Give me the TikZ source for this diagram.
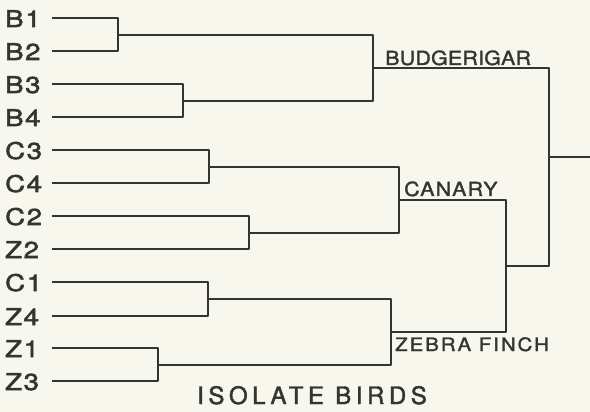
\documentclass[tikz,border=0pt]{standalone}
\usepackage{fontspec}
\setmainfont{TeX Gyre Heros}
\definecolor{paper}{HTML}{F7F7EE}
\definecolor{ink}{HTML}{35352F}
\begin{document}
\begin{tikzpicture}[x=1pt,y=-1pt,
  leaf/.style={anchor=base west,inner sep=0pt,text=ink,font=\fontsize{23}{23}\selectfont\addfontfeature{FakeStretch=1.2,FakeBold=2.2,LetterSpace=7}},
  clus/.style={anchor=base west,inner sep=0pt,text=ink},
  branch/.style={draw=ink,line width=2.3pt,line join=round}]
\fill[paper] (0,0) rectangle (590,412);
\useasboundingbox (0,0) rectangle (590,412);
% leaf labels
\foreach \n/\y in {B1/18,B2/51,B3/84,B4/117,C3/150,C4/183,C2/216,Z2/249,C1/282,Z4/316,Z1/348,Z3/381}{
  \node[leaf] (t\n) at (5,\y+9) {\n};
  \coordinate (l\n) at (52,\y);
}
% junctions
\coordinate (jB12) at (118,35);
\coordinate (jB34) at (183,101);
\coordinate (jBud) at (373,68);
\coordinate (jC34) at (209,167);
\coordinate (jCZ2) at (249,233);
\coordinate (jCan) at (399,200);
\coordinate (jCZ4) at (208,299);
\coordinate (jZ13) at (158,365);
\coordinate (jZeb) at (391,332);
\coordinate (jCZZ) at (506,266);
\coordinate (jRoot) at (549,157);
\coordinate (rEnd) at (590,157);
% brackets
\path[branch] (lB1) -| (jB12) |- (lB2);
\path[branch] (lB3) -| (jB34) |- (lB4);
\path[branch] (lC3) -| (jC34) |- (lC4);
\path[branch] (lC2) -| (jCZ2) |- (lZ2);
\path[branch] (lC1) -| (jCZ4) |- (lZ4);
\path[branch] (lZ1) -| (jZ13) |- (lZ3);
\path[branch] (jB12) -| (jBud) |- (jB34);
\path[branch] (jC34) -| (jCan) |- (jCZ2);
\path[branch] (jCZ4) -| (jZeb) |- (jZ13);
\path[branch] (jCan) -| (jCZZ) |- (jZeb);
\path[branch] (jBud) -| (jRoot) |- (jCZZ);
\path[branch] (jRoot) -- (rEnd);
% cluster labels
\node[clus,font=\fontsize{19.5}{19.5}\selectfont\addfontfeature{FakeStretch=1.1,FakeBold=1.5,LetterSpace=1}] (bud) at (385,65) {BUDGERIGAR};
\node[clus,font=\fontsize{19.5}{19.5}\selectfont\addfontfeature{FakeStretch=1.1,FakeBold=1.5,LetterSpace=6}] (can) at (404,196) {CANARY};
\node[clus,font=\fontsize{18.5}{18.5}\selectfont\addfontfeature{FakeStretch=1.1,FakeBold=1.5,LetterSpace=11}] (zeb) at (395,351) {ZEBRA FINCH};
\node[clus,font=\fontsize{24}{24}\selectfont\addfontfeature{FakeBold=1.8,LetterSpace=19}] (iso) at (197,404) {ISOLATE BIRDS};
\end{tikzpicture}
\end{document}
